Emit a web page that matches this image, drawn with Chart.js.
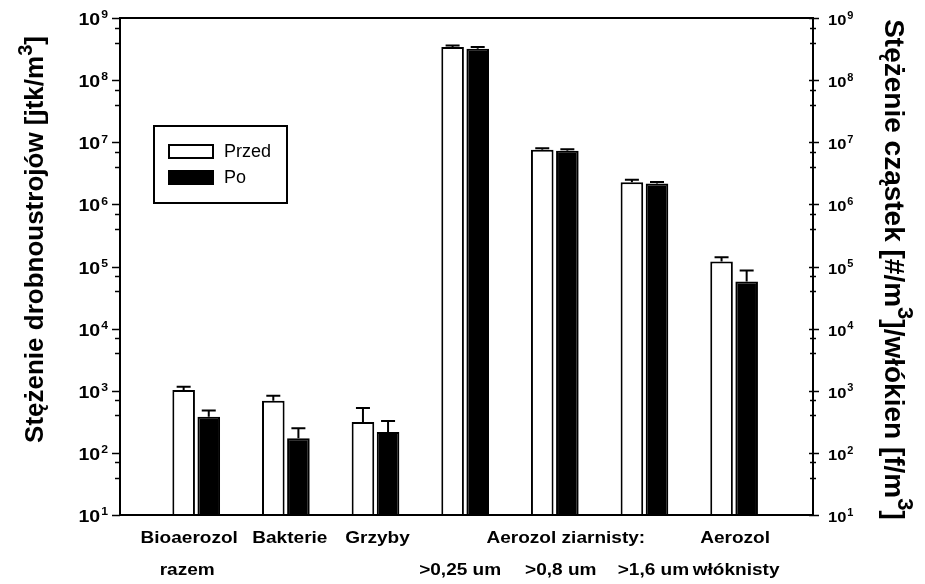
<!DOCTYPE html>
<html>
<head>
<meta charset="utf-8">
<script src="https://cdn.jsdelivr.net/npm/chart.js@4/dist/chart.umd.min.js"></script>
<style>
  html, body { margin: 0; padding: 0; background: #fff; }
</style>
</head>
<body>
<canvas id="chart" width="925" height="584"></canvas>
<script>
// group positions on the x axis and their labels (two text rows)
const groups = [1, 2, 3, 4, 5, 6, 7];
const labelsTop = ['Bioaerozol', 'Bakterie', 'Grzyby', '', 'Aerozol ziarnisty:', '', 'Aerozol'];
const labelsBottom = ['razem', '', '', '>0,25 um', '>0,8 um', '>1,6 um', 'włóknisty'];

// bar heights and the top of each error bar
const przed = [1030, 693, 315, 3.40e8, 7.55e6, 2.28e6, 1.20e5];
const przedUpper = [1165, 834, 528, 3.61e8, 8.04e6, 2.48e6, 1.41e5];
const po = [383, 172, 217, 3.19e8, 7.27e6, 2.16e6, 5.71e4];
const poUpper = [479, 249, 327, 3.40e8, 7.74e6, 2.30e6, 8.59e4];

// exponents of the decade ticks, 10^1 .. 10^9
const decades = [1, 2, 3, 4, 5, 6, 7, 8, 9];

const FONT = "'Liberation Sans', Arial, Helvetica, sans-serif";
// small horizontal nudges of the category text (px), as in the original figure
const nudgeTop = [-7, 4, 2, 0, 11, 0, 1];
const nudgeBottom = [-9, 0, 0, -5, 6, 9, 2];

const logTicks = [];
decades.forEach(p => {
    for (let s = 1; s <= 9; s++) {
        if (p === decades[decades.length - 1] && s > 1) break;
        logTicks.push({ value: s * Math.pow(10, p), major: s === 1 });
    }
});

// draw text with a horizontal stretch
function stretchText(ctx, text, x, y, sx, align) {
    const w = ctx.measureText(text).width * sx;
    let x0 = x;
    if (align === 'center') x0 = x - w / 2;
    else if (align === 'right') x0 = x - w;
    ctx.save();
    ctx.translate(x0, y);
    ctx.scale(sx, 1);
    ctx.textAlign = 'left';
    ctx.fillText(text, 0, 0);
    ctx.restore();
    return w;
}

// "10" with a raised exponent
function powerLabel(ctx, exp, x, y, size, supSize, sx, align) {
    ctx.font = 'bold ' + size + 'px ' + FONT;
    const wBase = ctx.measureText('10').width * sx;
    ctx.font = 'bold ' + supSize + 'px ' + FONT;
    const wExp = ctx.measureText(String(exp)).width * sx;
    const total = wBase + wExp + 1;
    let x0 = align === 'right' ? x - total : x;
    ctx.font = 'bold ' + size + 'px ' + FONT;
    stretchText(ctx, '10', x0, y, sx, 'left');
    ctx.font = 'bold ' + supSize + 'px ' + FONT;
    stretchText(ctx, String(exp), x0 + wBase + 1, y - size * 0.42, sx, 'left');
}

// rotated title with superscripts; parts = [[text, isSup], ...]
function richTitle(ctx, parts, cx, cy, size, angle) {
    const supSize = Math.round(size * 0.78);
    let total = 0;
    parts.forEach(([t, sup]) => {
        ctx.font = 'bold ' + (sup ? supSize : size) + 'px ' + FONT;
        total += ctx.measureText(t).width;
    });
    ctx.save();
    ctx.translate(cx, cy);
    ctx.rotate(angle);
    ctx.textBaseline = 'middle';
    let x = -total / 2;
    parts.forEach(([t, sup]) => {
        ctx.font = 'bold ' + (sup ? supSize : size) + 'px ' + FONT;
        ctx.fillText(t, x, sup ? -size * 0.38 : 0);
        x += ctx.measureText(t).width;
    });
    ctx.restore();
}

const decor = {
    id: 'decor',
    afterDatasetsDraw(chart) {
        const ctx = chart.ctx;
        const a = chart.chartArea;
        const yL = chart.scales.y;
        const yR = chart.scales.y2;
        const xs = chart.scales.x;
        ctx.save();
        ctx.strokeStyle = '#000';
        ctx.fillStyle = '#000';

        // error bars (upper only)
        chart.data.datasets.forEach((ds, di) => {
            const meta = chart.getDatasetMeta(di);
            meta.data.forEach((bar, i) => {
                const yTop = yL.getPixelForValue(ds.upper[i]);
                ctx.lineWidth = 2;
                ctx.beginPath();
                ctx.moveTo(bar.x, bar.y);
                ctx.lineTo(bar.x, yTop);
                ctx.moveTo(bar.x - 7, yTop);
                ctx.lineTo(bar.x + 7, yTop);
                ctx.stroke();
            });
        });

        // frame
        ctx.lineWidth = 2;
        ctx.strokeRect(a.left, a.top, a.right - a.left, a.bottom - a.top);

        // tick marks
        ctx.lineWidth = 1.5;
        yL.ticks.forEach(t => {
            const y = Math.round(yL.getPixelForValue(t.value)) + 0.5;
            ctx.beginPath();
            ctx.moveTo(a.left, y);
            ctx.lineTo(a.left - (t.major ? 8 : 5), y);
            ctx.stroke();
        });
        yR.ticks.forEach(t => {
            const y = Math.round(yR.getPixelForValue(t.value)) + 0.5;
            ctx.beginPath();
            ctx.moveTo(a.right - (t.major ? 4 : 3), y);
            ctx.lineTo(a.right + (t.major ? 6 : 3), y);
            ctx.stroke();
        });

        // tick labels
        ctx.textBaseline = 'alphabetic';
        decades.forEach(p => {
            const v = Math.pow(10, p);
            powerLabel(ctx, p, a.left - 12, yL.getPixelForValue(v) + 7, 16, 10, 1.22, 'right');
            powerLabel(ctx, p, a.right + 15, yR.getPixelForValue(v) + 7, 15, 10, 1.1, 'left');
        });

        // x labels
        ctx.font = 'bold 17px ' + FONT;
        groups.forEach((g, i) => {
            const x = xs.getPixelForValue(g);
            if (labelsTop[i]) stretchText(ctx, labelsTop[i], x + nudgeTop[i], a.bottom + 28, 1.12, 'center');
            if (labelsBottom[i]) stretchText(ctx, labelsBottom[i], x + nudgeBottom[i], a.bottom + 60, 1.12, 'center');
        });

        // axis titles
        richTitle(ctx, [['Stężenie drobnoustrojów [jtk/m', false], ['3', true], [']', false]],
            36, (a.top + a.bottom) / 2 - 27, 26, -Math.PI / 2);
        richTitle(ctx, [['Stężenie cząstek [#/m', false], ['3', true], [']/włókien [f/m', false], ['3', true], [']', false]],
            893, (a.top + a.bottom) / 2 + 3, 28, Math.PI / 2);

        // legend box
        const lx = a.left + 34, ly = a.top + 108;
        ctx.lineWidth = 2;
        ctx.strokeRect(lx, ly, 133, 77);
        ctx.font = '18px ' + FONT;
        ctx.textBaseline = 'middle';
        chart.data.datasets.forEach((ds, di) => {
            const sy = ly + 19 + di * 26;
            ctx.fillStyle = ds.backgroundColor;
            ctx.fillRect(lx + 15, sy, 44, 13);
            ctx.lineWidth = 2;
            ctx.strokeRect(lx + 15, sy, 44, 13);
            ctx.fillStyle = '#000';
            ctx.fillText(ds.label, lx + 70, sy + 7);
        });
        ctx.restore();
    }
};

const ctx = document.getElementById('chart').getContext('2d');
const logAxis = (pos) => ({
    type: 'logarithmic',
    position: pos,
    display: false,
    min: Math.pow(10, decades[0]),
    max: Math.pow(10, decades[decades.length - 1]),
    afterBuildTicks: (scale) => { scale.ticks = logTicks.map(t => ({ value: t.value, major: t.major })); }
});

new Chart(ctx, {
    type: 'bar',
    data: {
        datasets: [
            {
                label: 'Przed',
                data: groups.map((g, i) => ({ x: g, y: przed[i] })),
                upper: przedUpper,
                backgroundColor: '#ffffff',
                borderColor: '#000000',
                borderWidth: 2,
                yAxisID: 'y'
            },
            {
                label: 'Po',
                data: groups.map((g, i) => ({ x: g, y: po[i] })),
                upper: poUpper,
                backgroundColor: '#000000',
                borderColor: '#000000',
                borderWidth: 2,
                yAxisID: 'y'
            }
        ]
    },
    options: {
        responsive: false,
        animation: false,
        devicePixelRatio: 1,
        barPercentage: 0.9,
        categoryPercentage: 0.56,
        layout: { padding: { left: 120, right: 112, top: 18, bottom: 69 } },
        plugins: { legend: { display: false }, tooltip: { enabled: false } },
        scales: {
            x: {
                type: 'linear',
                display: false,
                offset: false,
                min: 0.15,
                max: 7.88,
                afterBuildTicks: (scale) => { scale.ticks = groups.map(g => ({ value: g })); }
            },
            y: logAxis('left'),
            y2: logAxis('right')
        }
    },
    plugins: [decor]
});
</script>
</body>
</html>
